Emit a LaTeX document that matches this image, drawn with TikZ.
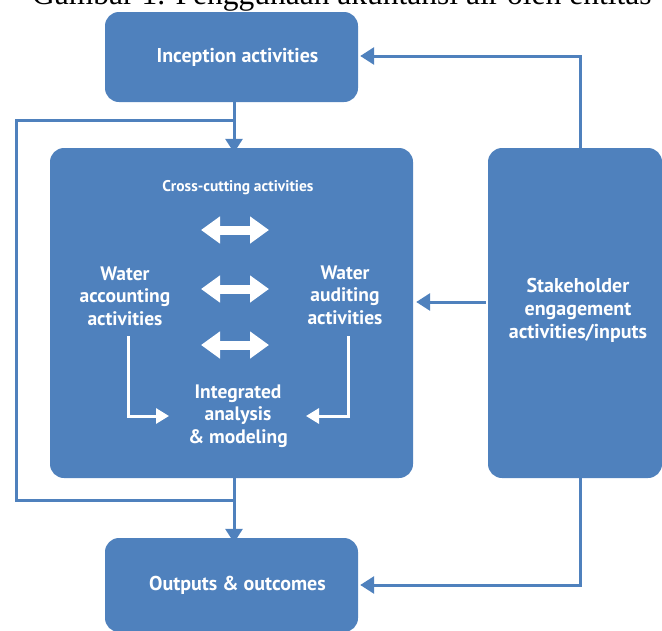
\documentclass[tikz,border=0pt]{standalone}
\usepackage{fontspec}
\setmainfont{Liberation Serif}
\newfontfamily\diagfont{PT Sans}
\usetikzlibrary{arrows.meta}
\definecolor{boxblue}{HTML}{4F81BD}
\tikzset{
  box/.style={fill=boxblue, rounded corners=14pt, draw=none, text=white, inner sep=0pt,
    font=\diagfont\bfseries\fontsize{20}{23}\selectfont, align=center},
  conn/.style={draw=boxblue, line width=3pt, -{Triangle[width=17pt,length=14pt]}},
  plainconn/.style={draw=boxblue, line width=3pt},
  wline/.style={draw=white, line width=3pt, -{Triangle[width=15pt,length=13pt]}},
  dbl/.style={draw=white, line width=9pt, {Triangle[width=26pt,length=19pt]}-{Triangle[width=26pt,length=19pt]}},
  lbl/.style={text=white, inner sep=0pt, align=center,
    font=\diagfont\bfseries\fontsize{19.5}{22.5}\selectfont},
  smalllbl/.style={text=white, inner sep=0pt, align=center,
    font=\diagfont\bfseries\fontsize{15.5}{17}\selectfont}
}
\begin{document}
\begin{tikzpicture}[x=1pt,y=-1pt]
\useasboundingbox (0,0) rectangle (662,630);
\clip (0,0) rectangle (662,630);
% caption (cut off at top)
\node[anchor=base west, inner sep=0pt, font=\fontsize{31.5}{32}\selectfont] (caption) at (32,4.5) {Gambar 1. Penggunaan akuntansi air oleh entitas};
% boxes
\node[box, minimum width=253pt, minimum height=90pt] (incep) at (231.5,57) {\hspace*{12pt}Inception activities};
\node[box, minimum width=363pt, minimum height=330pt] (central) at (231.5,313) {};
\node[box, minimum width=174pt, minimum height=330pt] (stake) at (575,313) {};
\node[lbl, font=\diagfont\bfseries\fontsize{20}{23}\selectfont] (staketext) at (578,310) {Stakeholder\\engagement\\activities/inputs};
\node[box, minimum width=253pt, minimum height=94pt] (out) at (231.5,585) {\hspace*{12pt}Outputs \& outcomes};
% central content
\node[smalllbl] (cross) at (238,188) {Cross-cutting activities};
\node[lbl] (acc) at (125,296) {Water\\accounting\\activities};
\node[lbl] (aud) at (345,295) {Water\\auditing\\activities};
\node[lbl] (integ) at (238,416) {Integrated\\analysis\\\& modeling};
\coordinate (d1l) at (201,230); \coordinate (d1r) at (269,230);
\coordinate (d2l) at (201,289); \coordinate (d2r) at (269,289);
\coordinate (d3l) at (201,345); \coordinate (d3r) at (269,345);
\draw[dbl] (d1l) -- (d1r);
\draw[dbl] (d2l) -- (d2r);
\draw[dbl] (d3l) -- (d3r);
\coordinate (la) at (128,336); \coordinate (lb) at (128,416); \coordinate (lc) at (169,416);
\draw[wline] (la) -- (lb) -- (lc);
\coordinate (ra) at (348,336); \coordinate (rb) at (348,416); \coordinate (rc) at (306,416);
\draw[wline] (ra) -- (rb) -- (rc);
% connectors
\coordinate (jtop) at (234,120);
\coordinate (jtl) at (16,120);
\coordinate (jbl) at (16,500);
\coordinate (jbot) at (234,500);
\draw[conn] (incep.south -| jtop) -- ([yshift=-5pt]central.north -| jtop);
\draw[plainconn] (jtop) -- (jtl) -- (jbl) -- (jbot);
\draw[conn] ([yshift=2pt]central.south -| jbot) -- ([yshift=-5pt]out.north -| jbot);
\coordinate (st) at (580,56);
\draw[conn] ([yshift=-5pt]stake.north -| st) -- (st) -- ([xshift=2pt]incep.east |- st);
\coordinate (sb) at (580,585);
\draw[conn] ([yshift=2pt]stake.south -| sb) -- (sb) -- ([xshift=2pt]out.east |- sb);
\coordinate (sm) at (488,302);
\draw[conn] ([xshift=-2pt]stake.west |- sm) -- ([xshift=3pt]central.east |- sm);
\end{tikzpicture}
\end{document}
